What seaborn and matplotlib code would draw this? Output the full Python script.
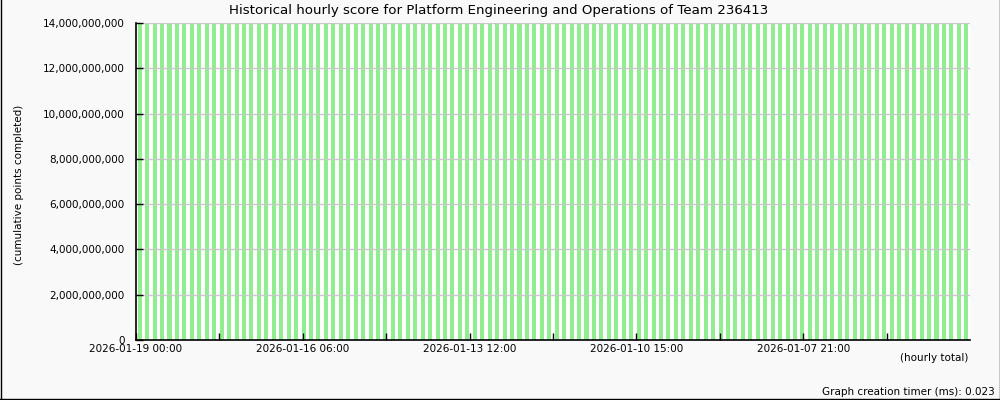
import numpy as np
import pandas as pd
import matplotlib
matplotlib.use("Agg")
import matplotlib.pyplot as plt
import matplotlib.ticker as mticker
from matplotlib.lines import Line2D
import seaborn as sns

title = "Historical hourly score for Platform Engineering and Operations of Team 236413"
yLabel = "(cumulative points completed)"
xLabel = "(hourly total)"
timerText = "Graph creation timer (ms): 0.023"

# cumulative score per hourly bar, in billions (all above the 14B axis limit)
scoreBillions = [
    15.93, 15.92, 15.92, 15.91, 15.90, 15.90, 15.89,
    15.88, 15.88, 15.87, 15.86, 15.86, 15.85, 15.84,
    15.84, 15.83, 15.82, 15.82, 15.81, 15.80, 15.80,
    15.79, 15.78, 15.78, 15.77, 15.76, 15.76, 15.75,
    15.74, 15.74, 15.73, 15.72, 15.72, 15.71, 15.70,
    15.70, 15.69, 15.68, 15.68, 15.67, 15.66, 15.66,
    15.65, 15.64, 15.64, 15.63, 15.62, 15.62, 15.61,
    15.60, 15.60, 15.59, 15.58, 15.58, 15.57, 15.56,
    15.56, 15.55, 15.54, 15.54, 15.53, 15.52, 15.52,
    15.51, 15.50, 15.50, 15.49, 15.48, 15.48, 15.47,
    15.46, 15.46, 15.45, 15.44, 15.44, 15.43, 15.42,
    15.42, 15.41, 15.40, 15.40, 15.39, 15.38, 15.38,
    15.37, 15.36, 15.36, 15.35, 15.34, 15.34, 15.33,
    15.32, 15.32, 15.31, 15.30, 15.30, 15.29, 15.28,
    15.28, 15.27, 15.26, 15.26, 15.25, 15.24, 15.24,
    15.23, 15.22, 15.22, 15.21, 15.20, 15.20, 15.19,
]
tickLabels = ["2026-01-19 00:00", "", "2026-01-16 06:00", "", "2026-01-13 12:00", "",
              "2026-01-10 15:00", "", "2026-01-07 21:00", ""]
yTicks = [0, 2e9, 4e9, 6e9, 8e9, 10e9, 12e9, 14e9]

data = pd.DataFrame({
    "hour": list(range(len(scoreBillions))),
    "score": [v * 1e9 for v in scoreBillions],
})

plt.rcParams["font.family"] = ["DejaVu Sans"]
fig = plt.figure(figsize=(10, 4), dpi=100, facecolor="#f9f9f9")
ax = fig.add_axes([0.136, 0.15, 0.834, 0.7925])
ax.set_facecolor("white")

sns.barplot(data=data, x="hour", y="score", color="#90ee90", saturation=1,
            width=0.54, linewidth=0, ax=ax, zorder=1)

n = len(scoreBillions)
ax.set_xlim(-0.5, n - 0.5)
ax.set_ylim(0, 14e9)
step = n / 10
ax.set_xticks([-0.5 + k * step for k in range(len(tickLabels))])
ax.set_xticklabels(tickLabels, fontsize=7.5)
ax.set_yticks(yTicks)
ax.yaxis.set_major_formatter(mticker.FuncFormatter(lambda v, p: f"{int(v):,}"))
ax.tick_params(axis="y", labelsize=7.5, direction="in", length=5, width=1, pad=8)
ax.tick_params(axis="x", direction="in", length=5, width=1, pad=3)
ax.set_xlabel("")
ax.set_ylabel("")
ax.grid(axis="y", color="#c8c8c8", linewidth=1, zorder=2)
ax.set_axisbelow(False)
for side in ["top", "right"]:
    ax.spines[side].set_visible(False)
for side in ["left", "bottom"]:
    ax.spines[side].set_color("black")
    ax.spines[side].set_linewidth(1.2)
    ax.spines[side].set_zorder(3)

fig.text(0.499, 0.974, title, ha="center", va="center", fontsize=9.6)
fig.text(0.019, 0.5375, yLabel, ha="center", va="center", rotation=90, fontsize=7.5)
fig.text(0.968, 0.105, xLabel, ha="right", va="center", fontsize=7.5)
fig.text(0.995, 0.02, timerText, ha="right", va="center", fontsize=7.5)

# frame around the image
for xs, ys in [([0.0005, 0.0005], [0, 1]), ([0.9995, 0.9995], [0, 1]), ([0, 1], [0.0015, 0.0015])]:
    fig.add_artist(Line2D(xs, ys, color="black", linewidth=1, transform=fig.transFigure))

fig.savefig("out.png", dpi=100, facecolor=fig.get_facecolor())
